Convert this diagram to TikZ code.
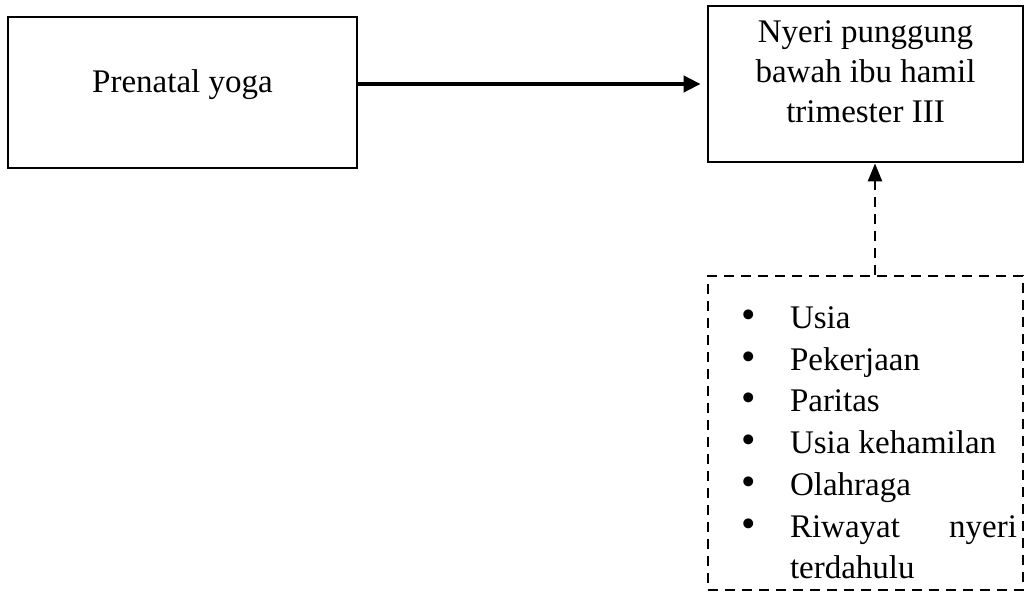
\documentclass[tikz,border=0pt]{standalone}
\usepackage{fontspec}
\setmainfont{Liberation Serif}
\usetikzlibrary{
	arrows.meta,
	positioning
}

\tikzset{
	box/.style={draw, line width=1.4pt, inner sep=0pt},
	dashbox/.style={draw, line width=1.2pt, dash pattern=on 5pt off 3.5pt},
	mainarrow/.style={line width=2pt, -{Triangle[length=8.5pt,width=8pt]}, shorten >=3pt},
	dasharrow/.style={line width=1.2pt, dash pattern=on 5pt off 3.5pt, -{Triangle[length=9pt,width=7pt]}}
}

% bullet list for the factors box
\newenvironment{factoritems}{%
	\begin{list}{\smash{\scalebox{1.25}{\textbullet}}}{%
		\setlength{\leftmargin}{38pt}%
		\setlength{\labelwidth}{21pt}%
		\setlength{\labelsep}{17pt}%
		\setlength{\itemsep}{0pt}%
		\setlength{\parsep}{0pt}%
		\setlength{\topsep}{0pt}%
		\setlength{\partopsep}{0pt}}%
	\tolerance=10000 \hyphenpenalty=10000}{\end{list}}

\begin{document}
\begin{tikzpicture}[x=0.5pt, y=-0.5pt, font=\fontsize{16.5}{20.85}\selectfont]
	
	\useasboundingbox (0,0) rectangle (1025,592);
	
	% independent variable
	\node[box, minimum width=174.5pt, minimum height=75.5pt,
	      text height=11pt, text depth=11pt] (yoga) at (182.5, 92.5) {Prenatal yoga};
	
	% dependent variable
	\node[box, minimum width=157.5pt, minimum height=78pt] (pain) at (865.5, 84) {};
	\node[align=center, anchor=north, inner sep=0pt, below=7.75pt of pain.north,
	      font=\fontsize{16.5}{20}\selectfont] (painlbl)
		{Nyeri punggung\\ bawah ibu hamil\\ trimester III};
	
	% confounding factors
	\node[dashbox, minimum width=157.5pt, minimum height=157pt, text width=151.5pt,
	      inner xsep=3pt, inner ysep=0pt, align=justify] (factors) at (865.5, 433) {%
		\begin{factoritems}
			\item Usia
			\item Pekerjaan
			\item Paritas
			\item Usia kehamilan
			\item Olahraga
			\item Riwayat nyeri terdahulu
		\end{factoritems}};
	
	\draw[mainarrow] (yoga.east |- pain.west) -- (pain.west);
	\draw[dasharrow] ([xshift=4.75pt]factors.north) -- ([xshift=4.75pt]pain.south);
	
\end{tikzpicture}
\end{document}
